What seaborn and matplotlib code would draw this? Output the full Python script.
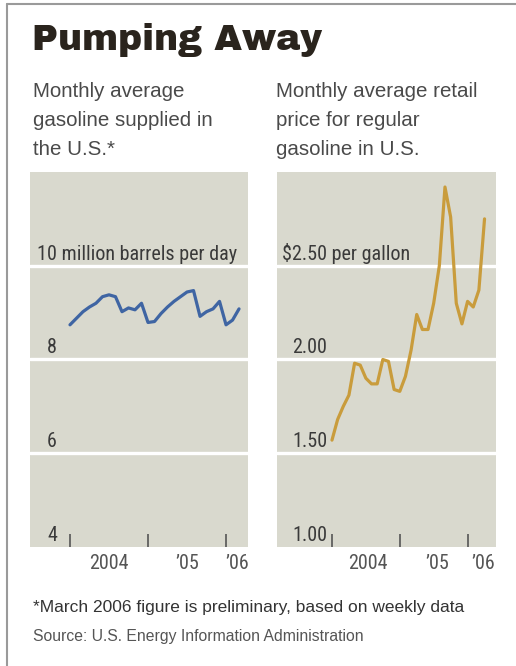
import matplotlib
matplotlib.use("Agg")
import matplotlib.pyplot as plt
import matplotlib.transforms as mtransforms
from matplotlib.lines import Line2D
import seaborn as sns
import pandas as pd

# ---------------- data ----------------
months = ["2004-01", "2004-02", "2004-03", "2004-04", "2004-05", "2004-06",
          "2004-07", "2004-08", "2004-09", "2004-10", "2004-11", "2004-12",
          "2005-01", "2005-02", "2005-03", "2005-04", "2005-05", "2005-06",
          "2005-07", "2005-08", "2005-09", "2005-10", "2005-11", "2005-12",
          "2006-01", "2006-02", "2006-03", "2006-04"]

supplied = [8.74, 8.88, 9.02, 9.12, 9.20, 9.34, 9.38, 9.34, 9.02, 9.10,
            9.06, 9.20, 8.79, 8.81, 8.98, 9.12, 9.24, 9.34, 9.44, 9.47,
            8.92, 9.02, 9.08, 9.24, 8.74, 8.84, 9.08]          # Jan 2004 - Mar 2006

price = [1.57, 1.68, 1.75, 1.81, 1.98, 1.97, 1.90, 1.87, 1.87, 2.00,
         1.99, 1.84, 1.83, 1.91, 2.05, 2.24, 2.16, 2.16, 2.30, 2.50,
         2.92, 2.76, 2.30, 2.19, 2.31, 2.28, 2.37, 2.75]       # Jan 2004 - Apr 2006

year_ticks = [0, 12, 24]
year_labels = ["2004", "\u201905", "\u201906"]

left_yticks = [4, 6, 8, 10]
left_ylabels = ["4", "6", "8", "10 million barrels per day"]
right_yticks = [1.0, 1.5, 2.0, 2.5]
right_ylabels = ["1.00", "1.50", "2.00", "$2.50 per gallon"]

df_sup = pd.DataFrame({"m": range(len(supplied)), "v": supplied,
                       "month": months[:len(supplied)]})
df_pr = pd.DataFrame({"m": range(len(price)), "v": price, "month": months})

# ---------------- style ----------------
sns.set_theme(style="white")
COND = ["Roboto Condensed", "DejaVu Sans"]
SANS = ["Liberation Sans", "DejaVu Sans"]
plt.rcParams["font.family"] = COND

BG = "#d9d9ce"
W, H = 516, 666
fig = plt.figure(figsize=(W / 100, H / 100), dpi=100)
fig.patch.set_facecolor("white")


def frame(x0, x1, y_top, y_bot):
    return [x0 / W, 1 - y_bot / H, (x1 - x0) / W, (y_bot - y_top) / H]


def panel(rect, df, color, ylim, xlim, yticks, ylabels, lab_x, top_x, xlab_pos):
    ax = fig.add_axes(rect)
    ax.set_facecolor(BG)
    sns.lineplot(data=df, x="m", y="v", ax=ax, color=color, lw=2.3,
                 solid_joinstyle="round", solid_capstyle="round")
    ax.set_xlim(*xlim)
    ax.set_ylim(*ylim)
    for s in ax.spines.values():
        s.set_visible(False)
    for yv in yticks[1:]:
        ax.axhline(yv, color="white", lw=2.4, zorder=1)
    ax.set_yticks([])
    ax.set_xlabel("")
    ax.set_ylabel("")
    ax.set_xticks(year_ticks)
    ax.set_xticklabels([])
    ax.tick_params(axis="x", which="major", direction="in", length=9.4,
                   width=1.2, color="#555555", bottom=True)
    ax.set_xticks(xlab_pos, minor=True)
    ax.set_xticklabels(year_labels, minor=True)
    ax.tick_params(axis="x", which="minor", length=0, pad=5,
                   labelsize=14.5, labelcolor="#555555")
    trans = mtransforms.blended_transform_factory(ax.transAxes, ax.transData)
    for i, (yv, lab) in enumerate(zip(yticks, ylabels)):
        xx = top_x if i == len(yticks) - 1 else lab_x
        ax.annotate(lab, xy=(xx, yv), xycoords=trans, xytext=(0, 6),
                    textcoords="offset pixels", ha="left", va="baseline",
                    fontsize=14.5, color="#3a3a3a", zorder=5)
    return ax


axL = panel(frame(30, 248, 172, 547), df_sup, "#3f65a3", (4, 12),
            (-6.15, 27.38), left_yticks, left_ylabels,
            (47 - 30) / 218, (37 - 30) / 218, [6, 18, 25.7])
axR = panel(frame(277, 496, 172, 547), df_pr, "#c99c3c", (1.0, 3.0),
            (-9.73, 29.03), right_yticks, right_ylabels,
            (292 - 277) / 219, (282 - 277) / 219, [6.4, 18.6, 26.7])

# ---------------- texts ----------------
def ftext(x, y, s, **kw):
    return fig.text(x / W, 1 - y / H, s, va="baseline", ha="left", **kw)


title = ftext(32, 50, "Pumping Away", fontsize=22, fontweight="heavy",
              color="#2a241d", family=["Archivo Black", "DejaVu Sans"])
# fit the title to the reference width (~290 px)
renderer = fig.canvas.get_renderer()
tw = title.get_window_extent(renderer).width
title.set_fontsize(min(26, 22 * 290 / tw))

sub_kw = dict(fontsize=14.8, color="#4a4a4a", family=SANS)
for i, line in enumerate(["Monthly average", "gasoline supplied in", "the U.S.*"]):
    ftext(33, 97 + 29 * i, line, **sub_kw)
for i, line in enumerate(["Monthly average retail", "price for regular",
                          "gasoline in U.S."]):
    ftext(276, 97 + 29 * i, line, **sub_kw)

ftext(33, 612, "*March 2006 figure is preliminary, based on weekly data",
      fontsize=12.5, color="#333333", family=SANS)
ftext(33, 641, "Source: U.S. Energy Information Administration",
      fontsize=11.3, color="#555555", family=SANS)

# border lines
fig.add_artist(Line2D([6.5 / W, 1], [1 - 3.5 / H, 1 - 3.5 / H],
                      transform=fig.transFigure, color="#9a9a9a", lw=1.5))
fig.add_artist(Line2D([6.5 / W, 6.5 / W], [0, 1 - 3.5 / H],
                      transform=fig.transFigure, color="#9a9a9a", lw=1.5))

fig.savefig("out.png", dpi=100, facecolor="white")
